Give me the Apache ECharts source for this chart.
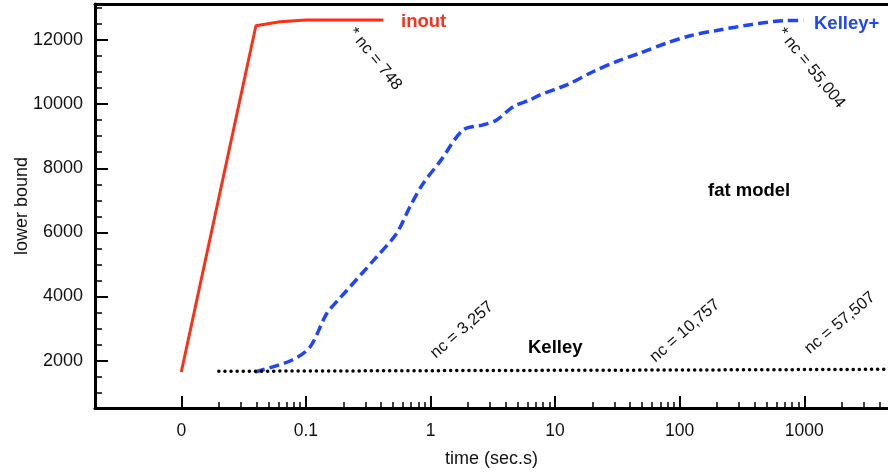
<!DOCTYPE html>
<html><head><meta charset="utf-8">
<script src="https://cdn.jsdelivr.net/npm/echarts@6/dist/echarts.min.js"></script>
<style>html,body{margin:0;padding:0;background:#fff}#c{width:888px;height:473px}</style>
</head><body><div id="c"></div>
<script>
// ---- data (time in seconds, lower bound) ----
const inoutTime  = [0.01, 0.0397, 0.062, 0.1, 0.418];
const inoutBound = [1644, 12447, 12572, 12625, 12625];

const kelleyPlusTime  = [0.0391, 0.0769, 0.108, 0.147, 0.1875, 0.370, 0.535, 0.684, 0.875, 1.19, 1.83, 2.65, 3.40, 4.62, 6.30, 7.57, 12.4, 20.3, 31.2, 48.0, 78.6, 121, 198, 369, 678, 982];
const kelleyPlusBound = [1644, 2009, 2425, 3469, 3947, 5237, 5969, 6800, 7531, 8206, 9197, 9353, 9509, 9925, 10134, 10291, 10603, 11019, 11331, 11594, 11906, 12134, 12300, 12478, 12603, 12610];

const kelleyTime  = [0.02, 1, 100, 5000];
const kelleyBound = [1665, 1685, 1705, 1728];

const xTickValues = [0.01, 0.1, 1, 10, 100, 1000];
const xTickLabels = ['0', '0.1', '1', '10', '100', '1000'];
const yTickValues = [2000, 4000, 6000, 8000, 10000, 12000];
const yMinorValues = [1000, 1500, 2500, 3000, 3500, 4500, 5000, 5500, 6500, 7000, 7500, 8500, 9000, 9500, 10500, 11000, 11500, 12500, 13000];
const minorMultipliers = [2, 3, 4, 5, 6, 7, 8, 9];
const decades = [0.01, 0.1, 1, 10, 100, 1000];

// ---- build ----
const lg = v => Math.log10(v);
const pairs = (ts, vs) => ts.map((t, i) => [lg(t), vs[i]]);
const xMajor = xTickValues.map(lg);
const xMinor = [];
decades.forEach(d => minorMultipliers.forEach(k => xMinor.push(lg(d * k))));

const FONT = 'Liberation Sans, Arial, Helvetica, sans-serif';
const X_MIN = -2.6926, X_MAX = 3.6718;
const Y_MIN = 520, Y_MAX = 13125;

const chart = echarts.init(document.getElementById('c'), null, {renderer: 'canvas'});

const baseX = {type: 'value', min: X_MIN, max: X_MAX, splitLine: {show: false}};
const baseY = {type: 'value', min: Y_MIN, max: Y_MAX, splitLine: {show: false}};

const labelMap = {};
xMajor.forEach((v, i) => { labelMap[v.toFixed(4)] = xTickLabels[i]; });

chart.setOption({
  backgroundColor: '#fff',
  animation: false,
  grid: {left: 95, right: 0, top: 4, bottom: 65, containLabel: false},
  xAxis: [
    Object.assign({}, baseX, {
      position: 'bottom',
      name: 'time (sec.s)', nameLocation: 'middle', nameGap: 42, nameMoveOverlap: false,
      nameTextStyle: {fontFamily: FONT, fontSize: 18, color: '#111'},
      axisLine: {show: true, onZero: false, lineStyle: {color: '#000', width: 3}},
      axisTick: {show: true, inside: true, length: 12, customValues: xMajor, lineStyle: {color: '#000', width: 2}},
      axisLabel: {show: true, customValues: xMajor, margin: 14, fontFamily: FONT, fontSize: 17.5, color: '#111',
        formatter: v => labelMap[v.toFixed(4)] || ''}
    }),
    Object.assign({}, baseX, {
      position: 'bottom',
      axisLine: {show: false, onZero: false},
      axisTick: {show: true, inside: true, length: 6, customValues: xMinor, lineStyle: {color: '#000', width: 1.5}},
      axisLabel: {show: false}
    }),
    Object.assign({}, baseX, {
      position: 'top',
      axisLine: {show: true, onZero: false, lineStyle: {color: '#000', width: 3}},
      axisTick: {show: false}, axisLabel: {show: false}
    })
  ],
  yAxis: [
    Object.assign({}, baseY, {
      position: 'left',
      name: 'lower bound', nameLocation: 'middle', nameGap: 64, nameMoveOverlap: false,
      nameTextStyle: {fontFamily: FONT, fontSize: 18, color: '#111'},
      axisLine: {show: true, onZero: false, lineStyle: {color: '#000', width: 3}},
      axisTick: {show: true, inside: true, length: 13, customValues: yTickValues, lineStyle: {color: '#000', width: 2}},
      axisLabel: {show: true, customValues: yTickValues, margin: 12, fontFamily: FONT, fontSize: 18, color: '#111',
        formatter: v => String(v)}
    }),
    Object.assign({}, baseY, {
      position: 'left',
      axisLine: {show: false, onZero: false},
      axisTick: {show: true, inside: true, length: 7, customValues: yMinorValues, lineStyle: {color: '#000', width: 1.5}},
      axisLabel: {show: false}
    })
  ],
  series: [
    {
      name: 'inout', type: 'line', xAxisIndex: 0, yAxisIndex: 0,
      data: pairs(inoutTime, inoutBound), showSymbol: false, symbol: 'none',
      lineStyle: {color: '#ff2e17', width: 3}
    },
    {
      name: 'Kelley+', type: 'line', xAxisIndex: 0, yAxisIndex: 0,
      data: pairs(kelleyPlusTime, kelleyPlusBound), showSymbol: false, symbol: 'none', smooth: 0.3,
      lineStyle: {color: '#1f45fa', width: 3.5, type: [10, 5]}
    },
    {
      name: 'Kelley', type: 'line', xAxisIndex: 0, yAxisIndex: 0,
      data: pairs(kelleyTime, kelleyBound), showSymbol: false, symbol: 'none',
      lineStyle: {color: '#000', width: 3.5, type: [0.1, 6], cap: 'round'}
    }
  ],
  graphic: [
    {type: 'text', x: 401, y: 22, style: {text: 'inout', fill: '#ff2e17', font: 'bold 18.5px ' + FONT, textAlign: 'left', textVerticalAlign: 'middle'}},
    {type: 'text', x: 814, y: 24, style: {text: 'Kelley+', fill: '#1f45fa', font: 'bold 18.5px ' + FONT, textAlign: 'left', textVerticalAlign: 'middle'}},
    {type: 'text', x: 528, y: 348, style: {text: 'Kelley', fill: '#000', font: 'bold 18.5px ' + FONT, textAlign: 'left', textVerticalAlign: 'middle'}},
    {type: 'text', x: 708, y: 191, style: {text: 'fat model', fill: '#000', font: 'bold 18.5px ' + FONT, textAlign: 'left', textVerticalAlign: 'middle'}},
    {type: 'text', x: 375, y: 59, rotation: -51 * Math.PI / 180, style: {text: '* nc = 748', fill: '#111', font: '16.5px ' + FONT, textAlign: 'center', textVerticalAlign: 'middle'}},
    {type: 'text', x: 811, y: 68, rotation: -51 * Math.PI / 180, style: {text: '* nc = 55,004', fill: '#111', font: '16.5px ' + FONT, textAlign: 'center', textVerticalAlign: 'middle'}},
    {type: 'text', x: 462, y: 330, rotation: 41 * Math.PI / 180, style: {text: 'nc = 3,257', fill: '#111', font: '16.5px ' + FONT, textAlign: 'center', textVerticalAlign: 'middle'}},
    {type: 'text', x: 685, y: 331, rotation: 41 * Math.PI / 180, style: {text: 'nc = 10,757', fill: '#111', font: '16.5px ' + FONT, textAlign: 'center', textVerticalAlign: 'middle'}},
    {type: 'text', x: 840, y: 323, rotation: 40 * Math.PI / 180, style: {text: 'nc = 57,507', fill: '#111', font: '16.5px ' + FONT, textAlign: 'center', textVerticalAlign: 'middle'}}
  ]
});
</script>
</body></html>
